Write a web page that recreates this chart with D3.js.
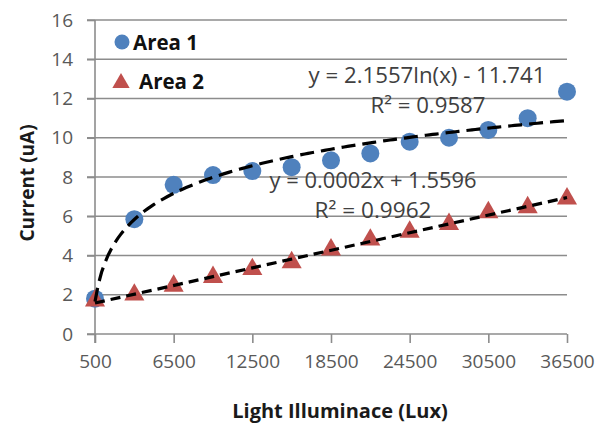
<!DOCTYPE html>
<html>
<head>
<meta charset="utf-8">
<script src="https://cdn.jsdelivr.net/npm/d3@7"></script>
<style>
  body { margin: 0; background: #fff; }
  svg text { font-family: "Open Sans", "Noto Sans", sans-serif; }
</style>
</head>
<body>
<svg id="chart"></svg>
<script>
// illuminance (Lux) for every measurement
const lux = [500, 3500, 6500, 9500, 12500, 15500, 18500, 21500, 24500, 27500, 30500, 33500, 36500];
// current (uA)
const area1 = [1.8, 5.85, 7.6, 8.1, 8.3, 8.5, 8.85, 9.2, 9.8, 10.0, 10.4, 11.0, 12.35];
const area2 = [1.7, 2.0, 2.45, 2.9, 3.3, 3.65, 4.3, 4.8, 5.2, 5.6, 6.2, 6.45, 6.9];
const xTicks = [500, 6500, 12500, 18500, 24500, 30500, 36500];
const yTicks = [0, 2, 4, 6, 8, 10, 12, 14, 16];
const seriesNames = ["Area 1", "Area 2"];
const eqLabels = ["y = 2.1557ln(x) - 11.741", "R\u00b2 = 0.9587", "y = 0.0002x + 1.5596", "R\u00b2 = 0.9962"];

const W = 600, H = 427;
const svg = d3.select("#chart").attr("width", W).attr("height", H);

const x = d3.scaleLinear().domain([500, 36500]).range([95, 567]);
const y = d3.scaleLinear().domain([0, 16]).range([334, 20]);

const gridCol = "#8c8c8c", tickCol = "#595959";
const blue = "#4f81bd", red = "#c0504d";

// horizontal gridlines
svg.append("g").selectAll("line").data(yTicks.filter(d => d > 0)).join("line")
  .attr("x1", 87).attr("x2", 567)
  .attr("y1", d => y(d)).attr("y2", d => y(d))
  .attr("stroke", gridCol).attr("stroke-width", 1.6);

// x axis
const xAxisG = svg.append("g").attr("transform", `translate(0,${y(0)})`)
  .call(d3.axisBottom(x).tickValues(xTicks).tickSize(9).tickSizeOuter(0).tickPadding(12).tickFormat(d3.format("d")));
xAxisG.select(".domain").attr("d", `M87,0H567`);

// y axis
const yAxisG = svg.append("g").attr("transform", `translate(${x(500)},0)`)
  .call(d3.axisLeft(y).tickValues(yTicks).tickSize(8).tickSizeOuter(0).tickPadding(14));
yAxisG.select(".domain").attr("d", `M0,${y(16)}V${y(0) + 9}`);

[xAxisG, yAxisG].forEach(g => {
  g.selectAll(".domain, .tick line").attr("stroke", gridCol).attr("stroke-width", 1.6);
  g.selectAll(".tick text").attr("fill", tickCol).attr("font-size", 19).attr("font-family", "Open Sans, sans-serif");
});

// markers
svg.append("g").selectAll("circle").data(lux).join("circle")
  .attr("cx", d => x(d)).attr("cy", (d, i) => y(area1[i]))
  .attr("r", 9).attr("fill", blue);

const tri = d3.symbol().type(d3.symbolTriangle).size(175);
svg.append("g").selectAll("path").data(lux).join("path")
  .attr("transform", (d, i) => `translate(${x(d)},${y(area2[i])})`)
  .attr("d", tri).attr("fill", red);

// least squares fits, drawn over the markers
function linFit(xs, ys) {
  const mx = d3.mean(xs), my = d3.mean(ys);
  const b = d3.sum(xs, (v, i) => (v - mx) * (ys[i] - my)) / d3.sum(xs, v => (v - mx) ** 2);
  return {b, a: my - b * mx};
}
const logFit = linFit(lux.map(Math.log), area1);
const lineFit = linFit(lux, area2);

const samples = d3.range(500, 36501, 250);
const trend = d3.line().x(d => x(d[0])).y(d => y(d[1]));

svg.append("path")
  .attr("d", trend(samples.map(v => [v, logFit.a + logFit.b * Math.log(v)])))
  .attr("fill", "none").attr("stroke", "#000").attr("stroke-width", 3.2)
  .attr("stroke-dasharray", "14,7");
svg.append("path")
  .attr("d", trend([[500, lineFit.a + lineFit.b * 500], [36500, lineFit.a + lineFit.b * 36500]]))
  .attr("fill", "none").attr("stroke", "#000").attr("stroke-width", 3.2)
  .attr("stroke-dasharray", "10,6");

// equation labels
const eqPos = [[427, 83], [428, 113], [373, 188], [373, 218]];
svg.append("g").selectAll("text").data(eqLabels).join("text")
  .attr("x", (d, i) => eqPos[i][0]).attr("y", (d, i) => eqPos[i][1])
  .attr("text-anchor", "middle").attr("font-size", 21).attr("fill", "#404040")
  .attr("textLength", (d, i) => [237, 115, 207, 117][i]).attr("lengthAdjust", "spacingAndGlyphs")
  .text(d => d);

// legend
const legend = svg.append("g");
legend.append("circle").attr("cx", 122).attr("cy", 42).attr("r", 7.5).attr("fill", blue);
legend.append("path").attr("transform", "translate(121,83)")
  .attr("d", d3.symbol().type(d3.symbolTriangle).size(130)).attr("fill", red);
legend.selectAll("text").data(seriesNames).join("text")
  .attr("x", (d, i) => i === 0 ? 133 : 139).attr("y", (d, i) => i === 0 ? 50 : 89)
  .attr("font-size", 20.5).attr("font-weight", "bold").attr("fill", "#111")
  .text(d => d);

// axis titles
svg.append("text")
  .attr("x", 340).attr("y", 418)
  .attr("text-anchor", "middle").attr("font-size", 20).attr("font-weight", "bold").attr("fill", "#1a1a1a")
  .text("Light Illuminace (Lux)");
svg.append("text")
  .attr("transform", "translate(34,183) rotate(-90)")
  .attr("text-anchor", "middle").attr("font-size", 19).attr("font-weight", "bold").attr("fill", "#1a1a1a")
  .text("Current (uA)");
</script>
</body>
</html>
